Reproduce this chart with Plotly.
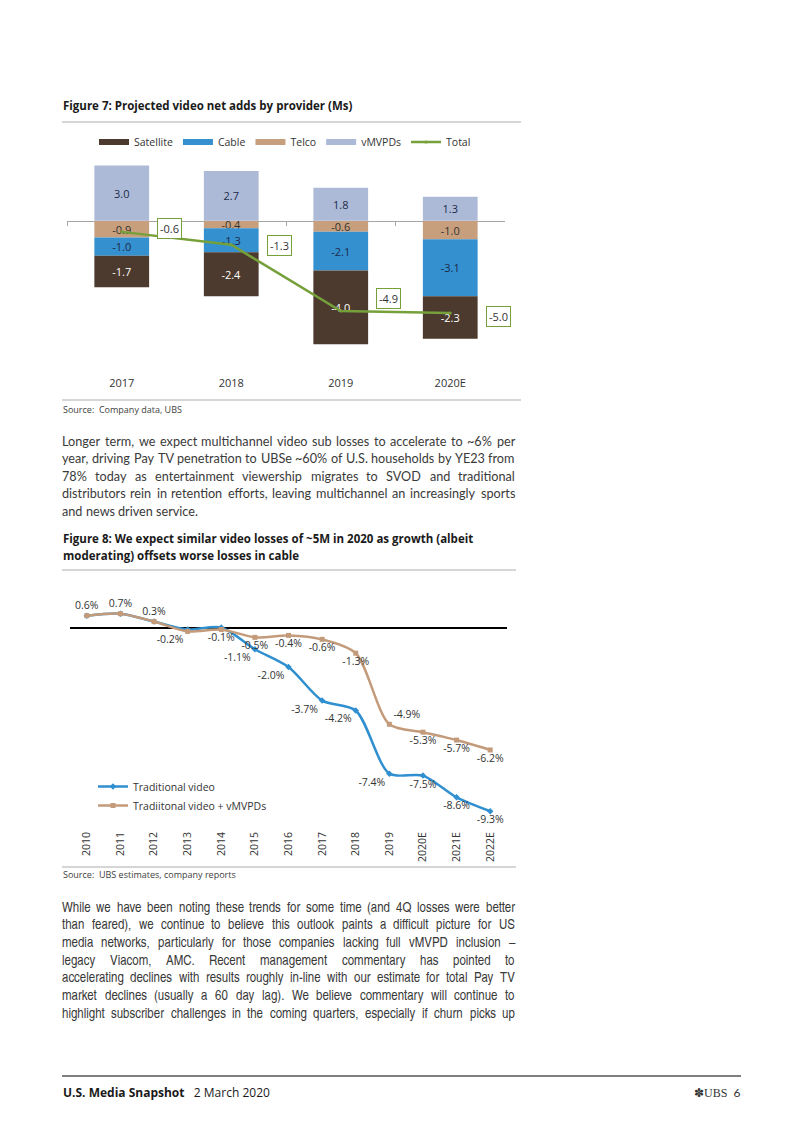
import glob
import os
import struct
import subprocess

import plotly.graph_objects as go

# The page body adds an 8px margin; map reference pixel positions accordingly.
OFF = 8
W, H = 786, 1117


def px(x):
    return (x - OFF) / W


def py(y):
    return 1 - (y - OFF) / H


# ---------------- Figure 7 data ----------------
years7 = ["2017", "2018", "2019", "2020E"]
satellite = [-1.7, -2.4, -4.0, -2.3]
cable = [-1.0, -1.3, -2.1, -3.1]
telco = [-0.9, -0.4, -0.6, -1.0]
vmvpds = [3.0, 2.7, 1.8, 1.3]
total = [-0.6, -1.3, -4.9, -5.0]

# ---------------- Figure 8 data ----------------
years8 = ["2010", "2011", "2012", "2013", "2014", "2015", "2016",
          "2017", "2018", "2019", "2020E", "2021E", "2022E"]
traditional = [0.6, 0.7, 0.3, -0.1, 0.0, -1.1, -2.0, -3.7, -4.2, -7.4, -7.5, -8.6, -9.3]
traditional_vmvpd = [0.6, 0.7, 0.3, -0.2, -0.1, -0.5, -0.4, -0.6, -1.3, -4.9, -5.3, -5.7, -6.2]

# ---------------- page text ----------------
para1 = [
    "Longer term, we expect multichannel video sub losses to accelerate to ~6% per",
    "year, driving Pay TV penetration to UBSe ~60% of U.S. households by YE23 from",
    "78% today as entertainment viewership migrates to SVOD and traditional",
    "distributors rein in retention efforts, leaving multichannel an increasingly sports",
    "and news driven service.",
]
para2 = [
    "While we have been noting these trends for some time (and 4Q losses were better",
    "than feared), we continue to believe this outlook paints a difficult picture for US",
    "media networks, particularly for those companies lacking full vMVPD inclusion –",
    "legacy Viacom, AMC. Recent management commentary has pointed to",
    "accelerating declines with results roughly in-line with our estimate for total Pay TV",
    "market declines (usually a 60 day lag). We believe commentary will continue to",
    "highlight subscriber challenges in the coming quarters, especially if churn picks up",
]

# styles
C_SAT = "#4b3a2d"
C_CAB = "#3590cf"
C_TEL = "#c89f7c"
C_VMV = "#adbad7"
C_TOT = "#76a03a"
C_BLUE = "#2f8fcf"
C_TAN = "#c49b7a"
TXT = "#333333"
CHART_FONT = "Open Sans, Noto Sans, sans-serif"
TITLE_FONT = "Open Sans, Noto Sans, sans-serif"
BODY_FONT = "Lato, Open Sans, sans-serif"
NARROW_FONT = "TeX Gyre Heros Cn, Liberation Sans Narrow, Liberation Sans, sans-serif"


# ---------------- font metrics (for justified body text) ----------------
def fc_match(family):
    try:
        r = subprocess.run(["fc-match", "-f", "%{file}|%{family}", family],
                           capture_output=True, text=True, timeout=5)
        out = r.stdout.strip()
        if not out:
            return None
        path, fams = out.split("|", 1)
        if family.lower() in fams.lower():
            return path
    except Exception:
        pass
    return None


def find_font(names, family=None):
    roots = ["/usr/share/fonts", "/usr/local/share/fonts", "/usr/share/texmf/fonts",
             os.path.expanduser("~/.fonts"), os.path.expanduser("~/.local/share/fonts")]
    if family:
        p = fc_match(family)
        if p and os.path.exists(p):
            return p
    for n in names:
        for r in roots:
            hits = glob.glob(os.path.join(r, "**", n), recursive=True)
            if hits:
                return hits[0]
    return None


def load_advance(path):
    try:
        data = open(path, "rb").read()
        num_tables = struct.unpack(">H", data[4:6])[0]
        tables = {}
        for i in range(num_tables):
            tag, _cs, off, ln = struct.unpack(">4sIII", data[12 + 16 * i:28 + 16 * i])
            tables[tag.decode("latin1")] = off
        head = tables["head"]
        upem = struct.unpack(">H", data[head + 18:head + 20])[0]
        hhea = tables["hhea"]
        num_hm = struct.unpack(">H", data[hhea + 34:hhea + 36])[0]
        hmtx = tables["hmtx"]
        advances = [struct.unpack(">H", data[hmtx + 4 * i:hmtx + 4 * i + 2])[0] for i in range(num_hm)]
        cmap = tables["cmap"]
        n = struct.unpack(">H", data[cmap + 2:cmap + 4])[0]
        sub = None
        for i in range(n):
            pid, eid, off = struct.unpack(">HHI", data[cmap + 4 + 8 * i:cmap + 12 + 8 * i])
            fmt = struct.unpack(">H", data[cmap + off:cmap + off + 2])[0]
            if fmt == 4 and pid in (0, 3):
                sub = cmap + off
                break
        if sub is None:
            return None
        seg2 = struct.unpack(">H", data[sub + 6:sub + 8])[0]
        seg = seg2 // 2
        ends = struct.unpack(">%dH" % seg, data[sub + 14:sub + 14 + seg2])
        starts = struct.unpack(">%dH" % seg, data[sub + 16 + seg2:sub + 16 + 2 * seg2])
        deltas = struct.unpack(">%dh" % seg, data[sub + 16 + 2 * seg2:sub + 16 + 3 * seg2])
        ro_pos = sub + 16 + 3 * seg2
        roffs = struct.unpack(">%dH" % seg, data[ro_pos:ro_pos + seg2])
        cache = {}

        def gid(c):
            for i in range(seg):
                if starts[i] <= c <= ends[i]:
                    if roffs[i] == 0:
                        return (c + deltas[i]) & 0xFFFF
                    addr = ro_pos + 2 * i + roffs[i] + 2 * (c - starts[i])
                    g = struct.unpack(">H", data[addr:addr + 2])[0]
                    return (g + deltas[i]) & 0xFFFF if g else 0
            return 0

        def adv(ch):
            if ch not in cache:
                g = gid(ord(ch))
                cache[ch] = advances[min(g, num_hm - 1)] / upem
            return cache[ch]

        return adv
    except Exception:
        return None


fig = go.Figure()

# ---- Figure 7 bars (stack order: telco nearest zero) ----
bar_specs = [
    ("Telco", telco, C_TEL, TXT, 3),
    ("Cable", cable, C_CAB, "#1c2a4a", 2),
    ("Satellite", satellite, C_SAT, "white", 1),
    ("vMVPDs", vmvpds, C_VMV, "#1c2a4a", 4),
]
for name, vals, col, tcol, rank in bar_specs:
    fig.add_trace(go.Bar(
        x=years7, y=vals, name=name, marker=dict(color=col, line=dict(width=0)),
        texttemplate="%{y:.1f}", textposition="inside", insidetextanchor="middle",
        constraintext="none", textangle=0,
        insidetextfont=dict(family=CHART_FONT, size=11, color=tcol),
        showlegend=False, legendgroup=name, xaxis="x", yaxis="y", hoverinfo="skip",
    ))
    # legend entry drawn as a wide swatch (as in the reference)
    fig.add_trace(go.Scatter(
        x=[None], y=[None], mode="lines", name=name, line=dict(color=col, width=6),
        legendgroup=name, legendrank=rank, legend="legend", xaxis="x", yaxis="y",
        hoverinfo="skip",
    ))

fig.add_trace(go.Scatter(
    x=years7, y=total, name="Total", mode="lines+markers",
    line=dict(color=C_TOT, width=2.5), marker=dict(size=3, color=C_TOT),
    legendrank=5, legend="legend", xaxis="x3", yaxis="y", hoverinfo="skip",
))

# total labels (boxes right of points); x given as category index
tot_yshift = [3, -1, 13, -4]
for i, v in enumerate(total):
    fig.add_annotation(
        x=i, y=v, xref="x", yref="y", text=f"{v:.1f}", showarrow=False,
        xshift=48, yshift=tot_yshift[i],
        font=dict(family=CHART_FONT, size=11, color=TXT),
        bgcolor="white", bordercolor=C_TOT, borderwidth=1, borderpad=2,
    )

# ---- Figure 8 lines ----
blue_text = [f"{v:.1f}%" if i >= 5 else "" for i, v in enumerate(traditional)]
tan_text = [f"{v:.1f}%" for v in traditional_vmvpd]
blue_pos = ["bottom center"] * 5 + ["bottom left", "bottom left", "bottom left", "bottom left",
                                    "bottom left", "bottom center", "bottom center", "bottom center"]
tan_pos = ["top center", "top center", "top center", "bottom left", "bottom center",
           "bottom center", "bottom center", "bottom center", "bottom center",
           "top right", "bottom center", "bottom center", "bottom center"]

fig.add_trace(go.Scatter(
    x=years8, y=traditional, name="Traditional video", mode="lines+markers+text",
    line=dict(color=C_BLUE, width=2.5, shape="spline", smoothing=0.8),
    marker=dict(symbol="diamond", size=5, color=C_BLUE),
    text=blue_text, textposition=blue_pos,
    textfont=dict(family=CHART_FONT, size=10.5, color=TXT),
    cliponaxis=False, legend="legend2", xaxis="x2", yaxis="y2", hoverinfo="skip",
))
fig.add_trace(go.Scatter(
    x=years8, y=traditional_vmvpd, name="Tradiitonal video + vMVPDs", mode="lines+markers+text",
    line=dict(color=C_TAN, width=2.5, shape="spline", smoothing=0.8),
    marker=dict(symbol="square", size=5, color=C_TAN),
    text=tan_text, textposition=tan_pos,
    textfont=dict(family=CHART_FONT, size=10.5, color=TXT),
    cliponaxis=False, legend="legend2", xaxis="x2", yaxis="y2", hoverinfo="skip",
))

# ---- axes ----
y1_range = [-8.15, 3.3]
y1_dom = [py(371), py(160)]
zero_pos = y1_dom[0] + (0 - y1_range[0]) / (y1_range[1] - y1_range[0]) * (y1_dom[1] - y1_dom[0])
x1_range = [-0.5, len(years7) - 0.5]
x2_range = [-0.5, len(years8) - 0.5]

fig.update_layout(
    width=W, height=H, margin=dict(l=0, r=0, t=0, b=0),
    paper_bgcolor="white", plot_bgcolor="rgba(0,0,0,0)",
    barmode="relative", bargap=0.5,
    font=dict(family=CHART_FONT, color=TXT),
    xaxis=dict(domain=[px(67), px(505)], anchor="y", type="category",
               categoryorder="array", categoryarray=years7, range=x1_range,
               showline=False, ticks="", showgrid=False, zeroline=False,
               tickfont=dict(size=11, color=TXT), ticklabelstandoff=4),
    xaxis3=dict(overlaying="x", anchor="free", position=zero_pos, type="category",
                categoryorder="array", categoryarray=years7, range=x1_range,
                showline=True, linecolor="#a6a6a6", linewidth=1, ticks="outside",
                ticklen=4, tickcolor="#a6a6a6", tickson="boundaries",
                showticklabels=False, showgrid=False, zeroline=False, layer="below traces"),
    yaxis=dict(domain=y1_dom, range=y1_range, visible=False),
    xaxis2=dict(domain=[px(70), px(507)], anchor="y2", type="category",
                categoryorder="array", categoryarray=years8, range=x2_range,
                showline=False, ticks="", showgrid=False, zeroline=False, tickangle=-90,
                tickfont=dict(size=10.5, color=TXT), ticklabelstandoff=4),
    yaxis2=dict(domain=[py(825), py(588)], range=[-10, 2], showticklabels=False,
                showgrid=False, ticks="", showline=False, zeroline=True,
                zerolinecolor="black", zerolinewidth=1.5),
    legend=dict(orientation="h", x=px(285), xanchor="center", y=py(142), yanchor="middle",
                font=dict(size=10.5, color=TXT), bgcolor="rgba(0,0,0,0)", itemwidth=30,
                traceorder="normal"),
    legend2=dict(x=px(93), xanchor="left", y=py(772), yanchor="top",
                 font=dict(size=10.5, color=TXT), bgcolor="rgba(0,0,0,0)", itemwidth=30,
                 tracegroupgap=0),
    showlegend=True,
)


# ---- page decorations ----
def hline(y, x0, x1, color="#c8c8c8", width=1.5):
    fig.add_shape(type="line", xref="paper", yref="paper", x0=px(x0), x1=px(x1),
                  y0=py(y), y1=py(y), line=dict(color=color, width=width))


hline(122, 62, 521)
hline(400, 62, 521)
hline(570, 62, 516)
hline(867, 62, 516)
hline(1076, 62, 741, color="#555555", width=1.5)


def text(x, y, s, size=12.5, family=BODY_FONT, color="#3a3a3a", anchor="left", pad=1):
    fig.add_annotation(xref="paper", yref="paper", x=px(x), y=py(y), text=s,
                       showarrow=False, xanchor=anchor, yanchor="middle",
                       borderpad=pad, borderwidth=0,
                       font=dict(family=family, size=size, color=color))


def paragraph(lines, y0, dy, size, family, font_files, fc_family, left, right,
              color="#3a3a3a", justify_last=False):
    """Justified paragraph: each word placed using the font's own advance widths."""
    path = find_font(font_files, fc_family)
    adv = load_advance(path) if path else None
    if adv is None:
        for i, line in enumerate(lines):
            text(left, y0 + i * dy, line, size=size, family=family, color=color)
        return

    def width(s, sz):
        return sum(adv(c) for c in s) * sz

    target = right - left
    longest = max(width(l, size) for l in lines)
    if longest > target:
        size = size * target / longest * 0.995
    for i, line in enumerate(lines):
        words = line.split(" ")
        ws = [width(w, size) for w in words]
        if (i < len(lines) - 1 or justify_last) and len(words) > 1:
            gap = (target - sum(ws)) / (len(words) - 1)
        else:
            gap = adv(" ") * size
        x = left
        for w, wd in zip(words, ws):
            text(x, y0 + i * dy, w, size=size, family=family, color=color, pad=0)
            x += wd + gap


text(62, 106, "<b>Figure 7: Projected video net adds by provider (Ms)</b>", size=11.5,
     family=TITLE_FONT, color="#1a1a1a")
text(62, 409, "Source:  Company data, UBS", size=9, family=TITLE_FONT, color="#404040")

paragraph(para1, 441, 17.6, 13.0, BODY_FONT, ["Lato-Regular.ttf", "Lato-Regular.otf"], "Lato", 62, 515)

text(62, 538, "<b>Figure 8: We expect similar video losses of ~5M in 2020 as growth (albeit</b>",
     size=11.5, family=TITLE_FONT, color="#1a1a1a")
text(62, 555, "<b>moderating) offsets worse losses in cable</b>", size=11.5,
     family=TITLE_FONT, color="#1a1a1a")
text(62, 874, "Source:  UBS estimates, company reports", size=9, family=TITLE_FONT, color="#404040")

# this paragraph continues on the next page, so its last visible line is justified too
paragraph(para2, 906, 17.7, 14.0, NARROW_FONT,
          ["texgyreheroscn-regular.otf", "LiberationSansNarrow-Regular.ttf"],
          "TeX Gyre Heros Cn", 62, 515, justify_last=True)

text(62, 1092, "<b>U.S. Media Snapshot</b>   2 March 2020", size=12, family=TITLE_FONT, color="#1a1a1a")
text(741, 1092, "✽<span style='font-family:Liberation Serif'>UBS</span>  6", size=12,
     color="#333333", anchor="right")

fig.write_html("out.html")
